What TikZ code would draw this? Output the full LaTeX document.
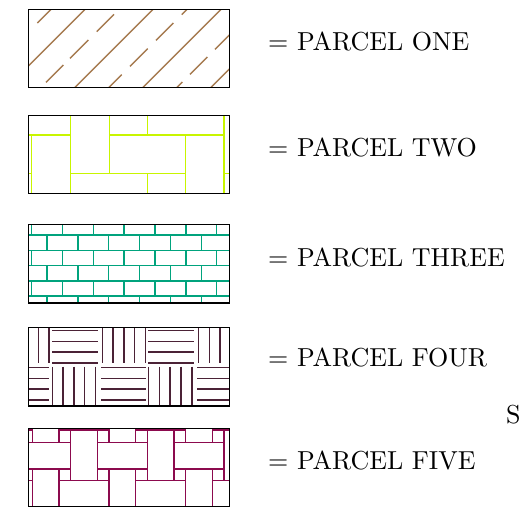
\documentclass[tikz,border=0pt]{standalone}
\usepackage{fontspec}
\usepackage{xcolor}
\usepackage{tikz}
\usetikzlibrary{backgrounds}
\newfontfamily\parcelfont{lmroman10-regular.otf}
\definecolor{onecol}{HTML}{A67B50}
\definecolor{twocol}{HTML}{C8F500}
\definecolor{threecol}{HTML}{00A37D}
\definecolor{fourcol}{HTML}{4B2236}
\definecolor{fivecol}{HTML}{8C0A4E}
\tikzset{
  swatch/.style={draw=black, line width=1.4pt, minimum width=201pt, minimum height=78.4pt,
                 inner sep=0pt, outer sep=0pt},
  lbl/.style={font=\parcelfont\fontsize{26}{30}\selectfont, anchor=base west, inner sep=0pt},
  hatch/.style={line width=1.45pt},
}

\begin{document}
\begin{tikzpicture}[x=1pt, y=-1pt]
\useasboundingbox (0,0) rectangle (520,531);

% ===================== SWATCHES =====================
\node[swatch] (one)   at (128.8,48.5)  {};
\node[swatch] (two)   at (128.8,154.5) {};
\node[swatch] (three) at (128.8,263.8) {};
\node[swatch] (four)  at (128.8,366.9) {};
\node[swatch] (five)  at (128.8,467.4) {};

\begin{pgfonlayer}{background}

% ---- parcel one: solid and broken diagonals ----
\begin{scope}
  \clip (one.south west) rectangle (one.north east);
  \foreach \s in {94.3,162.3,230.3,298.3}
    \draw[hatch, onecol] (\s-100,100) -- (\s,0);
  \foreach \s/\a/\b in {60.3/37.3/55, 128.3/46/63.3, 128.3/70/88.3, 128.3/96.7/114,
                        196.3/104/121.7, 196.3/130/147.7, 196.3/156/173.3, 196.3/181.7/199,
                        264.3/164.5/182.3, 264.3/190/207.3, 264.3/215/232.5}
    \draw[hatch, onecol] (\a,\s-\a) -- (\b,\s-\b);
\end{scope}

% ---- parcel two: large brick bond ----
\begin{scope}
  \clip (two.south west) rectangle (two.north east);
  \draw[hatch, twocol]
    (20,135) -- (70.7,135) (109.3,135) -- (224,135)
    (20,173.3) -- (31.7,173.3) (70.7,173.3) -- (185.7,173.3) (224,173.3) -- (240,173.3)
    (31.7,135) -- (31.7,200) (70.7,110) -- (70.7,200) (109.3,110) -- (109.3,173.3)
    (147.3,110) -- (147.3,135) (147.3,173.3) -- (147.3,200)
    (185.7,135) -- (185.7,200) (224,110) -- (224,200);
\end{scope}

% ---- parcel three: running bond ----
\begin{scope}
  \clip (three.south west) rectangle (three.north east);
  \foreach \y in {235,250.3,265.6,280.9,296.2}
    \draw[hatch, threecol] (20,\y) -- (240,\y);
  \foreach \t/\b/\o in {220/235/31.7, 235/250.3/47.1, 250.3/265.6/31.7,
                        265.6/280.9/47.1, 280.9/296.2/31.7, 296.2/310/47.1}
    \foreach \k in {0,...,6}
      \draw[hatch, threecol] (\o+30.83*\k,\t) -- (\o+30.83*\k,\b);
\end{scope}

% ---- parcel four: basket weave ----
\begin{scope}
  \clip (four.south west) rectangle (four.north east);
  \foreach \x in {6,102.3,198.6}
    \foreach \j in {0,...,4}
      \draw[hatch, fourcol] (\x+10.8*\j,320) -- (\x+10.8*\j,363.3);
  \foreach \x in {-90.3,6,102.3}
    \foreach \y in {330.7,341.4,352.1,362.8}
      \draw[hatch, fourcol] (\x+46,\y) -- (\x+92,\y);
  \foreach \x in {-44,52.3,148.6}
    \foreach \j in {0,...,4}
      \draw[hatch, fourcol] (\x+10.8*\j,366.7) -- (\x+10.8*\j,412);
  \foreach \x in {-44,52.3,148.6}
    \foreach \y in {367.5,378.3,389.1,399.9}
      \draw[hatch, fourcol] (\x+48.7,\y) -- (\x+93.4,\y);
\end{scope}

% ---- parcel five: woven tiles ----
\begin{scope}
  \clip (five.south west) rectangle (five.north east);
  \foreach \p in {-17.7,59,135.7,212.4} {
    \draw[hatch, fivecol] (\p,420) -- (\p,442.3) (\p,469) -- (\p,515)
      (\p+50,420) -- (\p+50,442.3) (\p+50,469) -- (\p+50,515);
    \draw[hatch, fivecol] (\p+11.7,430) -- (\p+11.7,480.7) (\p+38.3,430) -- (\p+38.3,480.7);
    \draw[hatch, fivecol] (\p,430) -- (\p+50,430) (\p,480.7) -- (\p+50,480.7);
    \draw[hatch, fivecol] (\p+38.3,442.3) -- (\p+88.3,442.3) (\p+38.3,469) -- (\p+88.3,469);
  }
\end{scope}

\end{pgfonlayer}

% ===================== LABELS =====================
\node[lbl] (onelbl)   at (268,50.5) {= PARCEL ONE};
\node[lbl] (twolbl)   at (268,156)  {= PARCEL TWO};
\node[lbl] (threelbl) at (268,266)  {= PARCEL THREE};
\node[lbl] (fourlbl)  at (268,366)  {= PARCEL FOUR};
\node[lbl] (fivelbl)  at (268,469)  {= PARCEL FIVE};
\node[lbl] (slbl)     at (506,423)  {S};

\end{tikzpicture}
\end{document}
